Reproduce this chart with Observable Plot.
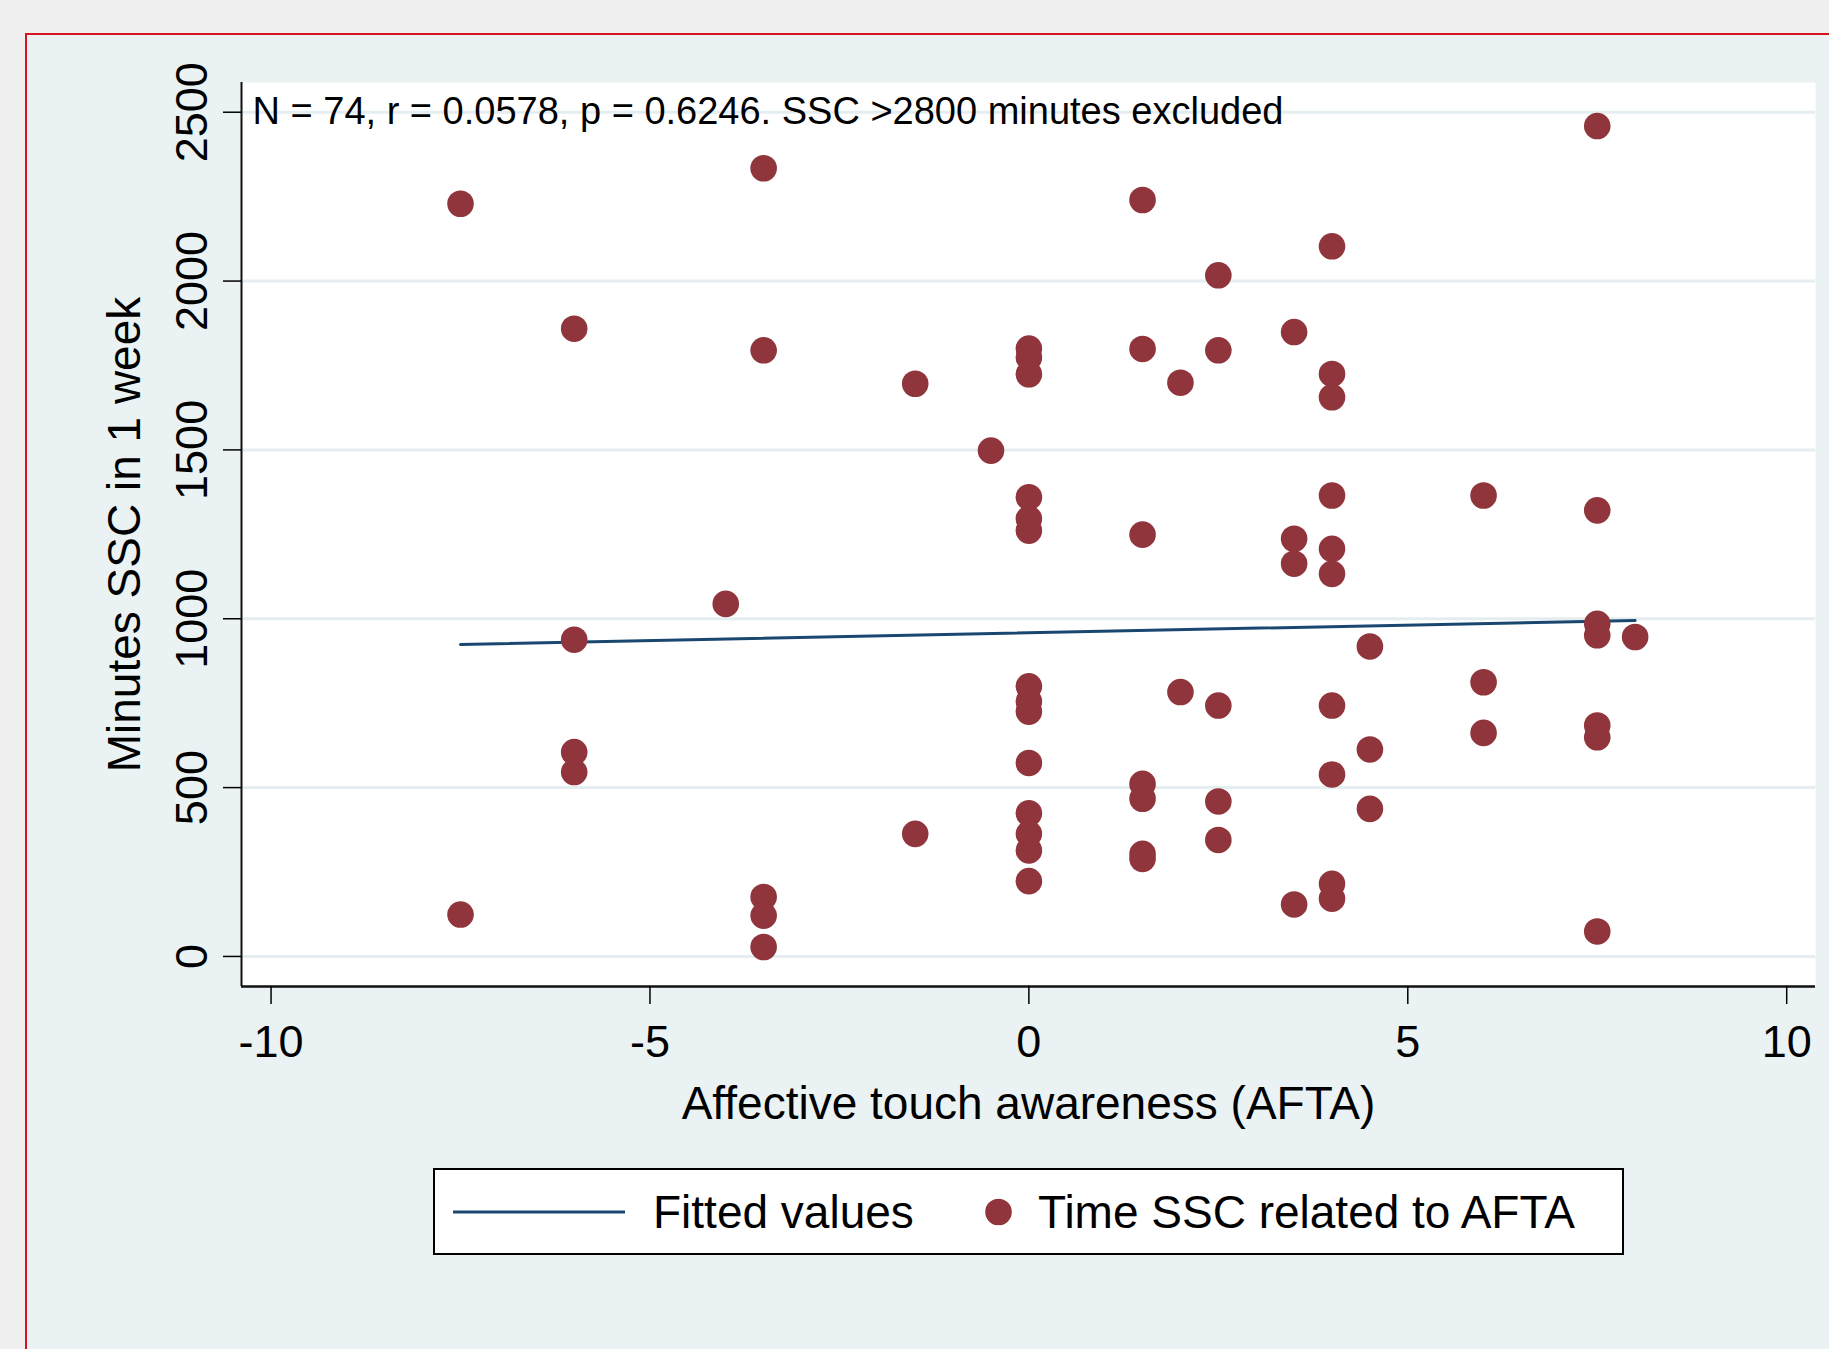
<!DOCTYPE html>
<html>
<head>
<meta charset="utf-8">
<script src="https://cdn.jsdelivr.net/npm/d3@7"></script>
<script src="https://cdn.jsdelivr.net/npm/@observablehq/plot@0.6"></script>
<style>
  html, body { margin: 0; padding: 0; background: #f0f0f0; overflow: hidden; width: 1829px; height: 1349px;
    font-family: "Liberation Sans", Arial, sans-serif; }
  #frame { position: absolute; left: 25px; top: 33px; width: 2000px; height: 2000px;
    border: 2px solid #d8121f; background: #eaf2f3; }
  #chart { position: absolute; left: 0; top: 0; width: 1829px; }
  #legend { position: absolute; left: 433px; top: 1168px; width: 1191px; height: 87px; box-sizing: border-box;
    border: 2.5px solid #000; background: #fff; font-size: 46px; color: #000; }
  #legend > * { position: absolute; top: 50%; transform: translateY(-50%); line-height: 1; white-space: nowrap; }
</style>
</head>
<body>
<div id="frame"></div>
<div id="chart"></div>
<div id="legend">
  <svg style="left:18px" width="172" height="6"><line x1="0" x2="172" y1="3" y2="3" stroke="#1a476f" stroke-width="3"/></svg>
  <span style="left:218px">Fitted values</span>
  <svg style="left:550px" width="27" height="27"><circle cx="13.5" cy="13.5" r="13.3" fill="#90353b"/></svg>
  <span style="left:603px">Time SSC related to AFTA</span>
</div>
<script>
// AFTA score (x) and minutes of SSC in 1 week (y)
const afta = [
  -7.5, -7.5,
  -6, -6, -6, -6,
  -4,
  -3.5, -3.5, -3.5, -3.5, -3.5,
  -1.5, -1.5,
  -0.5,
  0, 0, 0, 0, 0, 0, 0, 0, 0, 0, 0, 0, 0, 0,
  1.5, 1.5, 1.5, 1.5, 1.5, 1.5, 1.5,
  2, 2,
  2.5, 2.5, 2.5, 2.5, 2.5,
  3.5, 3.5, 3.5, 3.5,
  4, 4, 4, 4, 4, 4, 4, 4, 4, 4,
  4.5, 4.5, 4.5,
  6, 6, 6,
  7.5, 7.5, 7.5, 7.5, 7.5, 7.5, 7.5,
  8
];
const sscMinutes = [
  2229, 124,
  1859, 938, 605, 546,
  1044,
  2334, 1795, 176, 121, 28,
  1696, 363,
  1498,
  1800, 1774, 1724, 1360, 1296, 1261, 800, 755, 725, 573, 424, 363, 314, 223,
  2240, 1799, 1249, 511, 467, 304, 289,
  1699, 783,
  2017, 1795, 743, 459, 345,
  1849, 1237, 1163, 154,
  2103, 1725, 1656, 1365, 1207, 1133, 743, 539, 215, 171,
  918, 613, 437,
  1365, 812, 662,
  2459, 1321, 985, 951, 684, 649, 74,
  946
];
// fitted values line endpoints
const fittedX = [-7.5, 8];
const fittedY = [924, 995];

const xTicks = [-10, -5, 0, 5, 10];
const yTicks = [0, 500, 1000, 1500, 2000, 2500];
const xTitle = "Affective touch awareness (AFTA)";
const yTitle = "Minutes SSC in 1 week";
const note = "N = 74, r = 0.0578, p = 0.6246. SSC >2800 minutes excluded";

const points = afta.map((x, i) => ({x, y: sscMinutes[i]}));
const fitted = fittedX.map((x, i) => ({x, y: fittedY[i]}));

const xDomain = [-10.39, 10.38];
const yDomain = [-89, 2588];

const chart = Plot.plot({
  width: 1829,
  height: 1140,
  marginLeft: 241,
  marginRight: 14,
  marginTop: 82,
  marginBottom: 154,
  style: {background: "transparent", fontFamily: "'Liberation Sans', Arial, sans-serif", color: "#000"},
  x: {domain: xDomain},
  y: {domain: yDomain},
  marks: [
    Plot.frame({fill: "white", stroke: "none"}),
    Plot.gridY(yTicks, {stroke: "#e4edf0", strokeOpacity: 1, strokeWidth: 3}),
    Plot.ruleX([xDomain[0]], {stroke: "#111", strokeWidth: 2}),
    Plot.ruleY([yDomain[0]], {stroke: "#111", strokeWidth: 2.5}),
    Plot.axisX(xTicks, {tickSize: 18, tickPadding: 21, tickFormat: d => String(d), fontSize: 45, label: null, strokeWidth: 1.5}),
    Plot.axisY(yTicks, {tickSize: 18, tickPadding: 17, tickRotate: -90, tickFormat: d => String(d), fontSize: 45, label: null, strokeWidth: 1.5}),
    Plot.text([xTitle], {text: d => d, frameAnchor: "bottom", dy: 132, lineAnchor: "bottom", fontSize: 46, fill: "#000"}),
    Plot.text([yTitle], {text: d => d, frameAnchor: "left", dx: -102, rotate: -90, textAnchor: "middle", lineAnchor: "bottom", fontSize: 46, fill: "#000"}),
    Plot.text([note], {text: d => d, frameAnchor: "top-left", dx: 11, dy: 41, textAnchor: "start", lineAnchor: "bottom", fontSize: 38, fill: "#000"}),
    Plot.line(fitted, {x: "x", y: "y", stroke: "#1a476f", strokeWidth: 3}),
    Plot.dot(points, {x: "x", y: "y", r: 13.3, fill: "#90353b", stroke: "none"})
  ]
});
document.getElementById("chart").appendChild(chart);
</script>
</body>
</html>
